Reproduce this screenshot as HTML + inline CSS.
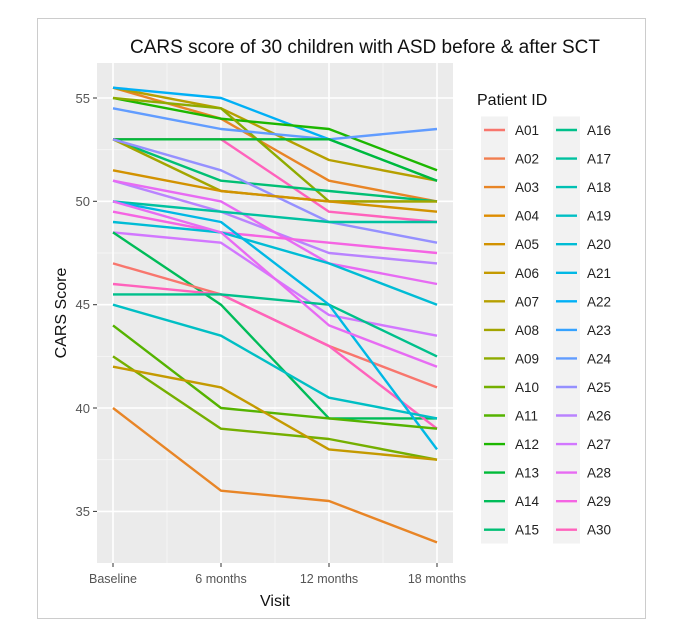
<!DOCTYPE html>
<html><head><style>body{margin:0;background:#fff}svg{display:block;font-family:"Liberation Sans",sans-serif}</style></head><body>
<svg width="690" height="625" viewBox="0 0 690 625" xmlns="http://www.w3.org/2000/svg">
<rect x="37.5" y="18.5" width="608" height="600" fill="#fff" stroke="#ccc"/>
<text x="365" y="53" font-size="19" text-anchor="middle" fill="#111">CARS score of 30 children with ASD before &amp; after SCT</text>
<rect x="97" y="63" width="356" height="500" fill="#ebebeb"/>
<g stroke="#f7f7f7" stroke-width="0.8">
<line x1="97" x2="453" y1="149.7" y2="149.7"/><line x1="97" x2="453" y1="253" y2="253"/><line x1="97" x2="453" y1="356.4" y2="356.4"/><line x1="97" x2="453" y1="459.7" y2="459.7"/>
<line y1="63" y2="563" x1="167" x2="167"/><line y1="63" y2="563" x1="275" x2="275"/><line y1="63" y2="563" x1="383" x2="383"/>
</g>
<g stroke="#fff" stroke-width="1.6">
<line x1="97" x2="453" y1="98" y2="98"/><line x1="97" x2="453" y1="201.3" y2="201.3"/><line x1="97" x2="453" y1="304.7" y2="304.7"/><line x1="97" x2="453" y1="408" y2="408"/><line x1="97" x2="453" y1="511.4" y2="511.4"/>
<line y1="63" y2="563" x1="113" x2="113"/><line y1="63" y2="563" x1="221" x2="221"/><line y1="63" y2="563" x1="329" x2="329"/><line y1="63" y2="563" x1="437" x2="437"/>
</g>
<g stroke="#333" stroke-width="1">
<line x1="93" x2="97" y1="98" y2="98"/><line x1="93" x2="97" y1="201.3" y2="201.3"/><line x1="93" x2="97" y1="304.7" y2="304.7"/><line x1="93" x2="97" y1="408" y2="408"/><line x1="93" x2="97" y1="511.4" y2="511.4"/>
<line y1="563" y2="567" x1="113" x2="113"/><line y1="563" y2="567" x1="221" x2="221"/><line y1="563" y2="567" x1="329" x2="329"/><line y1="563" y2="567" x1="437" x2="437"/>
</g>
<g font-size="13" fill="#555" text-anchor="end">
<text x="90" y="103">55</text><text x="90" y="206">50</text><text x="90" y="309">45</text><text x="90" y="413">40</text><text x="90" y="516">35</text>
</g>
<g font-size="12.5" fill="#555" text-anchor="middle">
<text x="113" y="583">Baseline</text><text x="221" y="583">6 months</text><text x="329" y="583">12 months</text><text x="437" y="583">18 months</text>
</g>
<text x="275" y="606" font-size="16" text-anchor="middle" fill="#111">Visit</text>
<text transform="translate(66,313) rotate(-90)" font-size="16" text-anchor="middle" fill="#111">CARS Score</text>
<g fill="none" stroke-width="2.4" stroke-linejoin="round">
<polyline stroke="#E88526" points="113,87.7 221,118.7 329,180.7 437,201.4"/>
<polyline stroke="#B6A000" points="113,87.7 221,108.3 329,160 437,180.7"/>
<polyline stroke="#00B0F6" points="113,87.7 221,98 329,139.3 437,180.7"/>
<polyline stroke="#1DB700" points="113,98 221,118.7 329,129 437,170.3"/>
<polyline stroke="#8EAB00" points="113,98 221,108.3 329,201.4 437,201.4"/>
<polyline stroke="#619CFF" points="113,108.3 221,129 329,139.3 437,129"/>
<polyline stroke="#FF62BC" points="113,139.3 221,139.3 329,211.7 437,222"/>
<polyline stroke="#00BA38" points="113,139.3 221,139.3 329,139.3 437,180.7"/>
<polyline stroke="#00BF74" points="113,139.3 221,180.7 329,191 437,201.4"/>
<polyline stroke="#A3A500" points="113,139.3 221,191 329,201.4 437,201.4"/>
<polyline stroke="#9590FF" points="113,139.3 221,170.3 329,222 437,242.7"/>
<polyline stroke="#D29200" points="113,170.3 221,191 329,201.4 437,211.7"/>
<polyline stroke="#B983FF" points="113,180.7 221,211.7 329,253 437,263.4"/>
<polyline stroke="#E76BF3" points="113,180.7 221,201.4 329,263.4 437,284"/>
<polyline stroke="#00C1A0" points="113,201.4 221,211.7 329,222 437,222"/>
<polyline stroke="#F564E3" points="113,211.7 221,232.4 329,242.7 437,253"/>
<polyline stroke="#00BCD5" points="113,222 221,232.4 329,263.4 437,304.7"/>
<polyline stroke="#D277FF" points="113,232.4 221,242.7 329,315 437,335.7"/>
<polyline stroke="#00BC59" points="113,232.4 221,304.7 329,418.4 437,418.4"/>
<polyline stroke="#F8766D" points="113,263.4 221,294.4 329,346 437,387.4"/>
<polyline stroke="#FF62BC" points="113,284 221,294.4 329,346 437,428.7"/>
<polyline stroke="#00C08B" points="113,294.4 221,294.4 329,304.7 437,356.4"/>
<polyline stroke="#00BFC4" points="113,304.7 221,335.7 329,397.7 437,418.4"/>
<polyline stroke="#00B8E5" points="113,201.4 221,222 329,304.7 437,449.4"/>
<polyline stroke="#55B300" points="113,325.4 221,408 329,418.4 437,428.7"/>
<polyline stroke="#75AF00" points="113,356.4 221,428.7 329,439 437,459.7"/>
<polyline stroke="#C49A00" points="113,366.7 221,387.4 329,449.4 437,459.7"/>
<polyline stroke="#E88526" points="113,408 221,490.7 329,501 437,542.4"/>
<polyline stroke="#E76BF3" points="113,201.4 221,232.4 329,325.4 437,366.7"/>
</g>
<text x="477" y="105" font-size="16" fill="#111">Patient ID</text>
<g fill="#f2f2f2">
<rect x="481" y="116.5" width="27" height="427"/><rect x="553" y="116.5" width="27" height="427"/>
</g>
<g stroke-width="2.4">
<line x1="484" x2="505" y1="130" y2="130" stroke="#F8766D"/>
<line x1="484" x2="505" y1="158.6" y2="158.6" stroke="#F17E4F"/>
<line x1="484" x2="505" y1="187.1" y2="187.1" stroke="#E88526"/>
<line x1="484" x2="505" y1="215.7" y2="215.7" stroke="#DE8C00"/>
<line x1="484" x2="505" y1="244.2" y2="244.2" stroke="#D29200"/>
<line x1="484" x2="505" y1="272.8" y2="272.8" stroke="#C49A00"/>
<line x1="484" x2="505" y1="301.3" y2="301.3" stroke="#B6A000"/>
<line x1="484" x2="505" y1="329.9" y2="329.9" stroke="#A3A500"/>
<line x1="484" x2="505" y1="358.4" y2="358.4" stroke="#8EAB00"/>
<line x1="484" x2="505" y1="387" y2="387" stroke="#75AF00"/>
<line x1="484" x2="505" y1="415.5" y2="415.5" stroke="#55B300"/>
<line x1="484" x2="505" y1="444.1" y2="444.1" stroke="#1DB700"/>
<line x1="484" x2="505" y1="472.6" y2="472.6" stroke="#00BA38"/>
<line x1="484" x2="505" y1="501.2" y2="501.2" stroke="#00BC59"/>
<line x1="484" x2="505" y1="529.7" y2="529.7" stroke="#00BF74"/>
<line x1="556" x2="577" y1="130" y2="130" stroke="#00C08B"/>
<line x1="556" x2="577" y1="158.6" y2="158.6" stroke="#00C1A0"/>
<line x1="556" x2="577" y1="187.1" y2="187.1" stroke="#00C0B3"/>
<line x1="556" x2="577" y1="215.7" y2="215.7" stroke="#00BFC4"/>
<line x1="556" x2="577" y1="244.2" y2="244.2" stroke="#00BCD5"/>
<line x1="556" x2="577" y1="272.8" y2="272.8" stroke="#00B8E5"/>
<line x1="556" x2="577" y1="301.3" y2="301.3" stroke="#00B0F6"/>
<line x1="556" x2="577" y1="329.9" y2="329.9" stroke="#35A2FF"/>
<line x1="556" x2="577" y1="358.4" y2="358.4" stroke="#619CFF"/>
<line x1="556" x2="577" y1="387" y2="387" stroke="#9590FF"/>
<line x1="556" x2="577" y1="415.5" y2="415.5" stroke="#B983FF"/>
<line x1="556" x2="577" y1="444.1" y2="444.1" stroke="#D277FF"/>
<line x1="556" x2="577" y1="472.6" y2="472.6" stroke="#E76BF3"/>
<line x1="556" x2="577" y1="501.2" y2="501.2" stroke="#F564E3"/>
<line x1="556" x2="577" y1="529.7" y2="529.7" stroke="#FF62BC"/>
</g>
<g font-size="13.5" fill="#222">
<text x="515" y="135">A01</text><text x="515" y="163.6">A02</text><text x="515" y="192.1">A03</text><text x="515" y="220.7">A04</text><text x="515" y="249.2">A05</text><text x="515" y="277.8">A06</text><text x="515" y="306.3">A07</text><text x="515" y="334.9">A08</text><text x="515" y="363.4">A09</text><text x="515" y="392">A10</text><text x="515" y="420.5">A11</text><text x="515" y="449.1">A12</text><text x="515" y="477.6">A13</text><text x="515" y="506.2">A14</text><text x="515" y="534.7">A15</text>
<text x="587" y="135">A16</text><text x="587" y="163.6">A17</text><text x="587" y="192.1">A18</text><text x="587" y="220.7">A19</text><text x="587" y="249.2">A20</text><text x="587" y="277.8">A21</text><text x="587" y="306.3">A22</text><text x="587" y="334.9">A23</text><text x="587" y="363.4">A24</text><text x="587" y="392">A25</text><text x="587" y="420.5">A26</text><text x="587" y="449.1">A27</text><text x="587" y="477.6">A28</text><text x="587" y="506.2">A29</text><text x="587" y="534.7">A30</text>
</g>
</svg>
</body></html>
